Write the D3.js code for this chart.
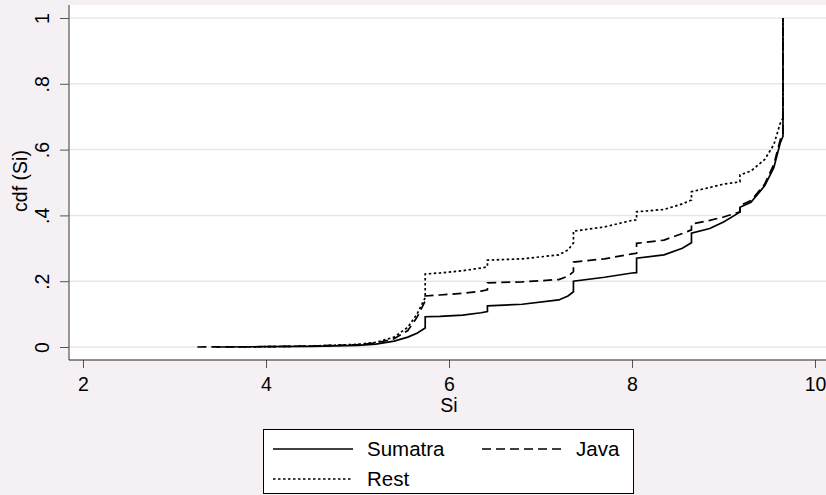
<!DOCTYPE html>
<html>
<head>
<meta charset="utf-8">
<script src="https://cdn.jsdelivr.net/npm/d3@7"></script>
<style>
  body { margin: 0; background: #f4f0f4; }
  svg { display: block; font-family: "Liberation Sans", Arial, sans-serif; }
</style>
</head>
<body>
<svg id="chart" width="826" height="495"></svg>
<script>
'use strict'

// cdf of Si (repeated x = vertical jump)
var sumatraX = [3.45, 4.0, 4.5, 5.0, 5.2, 5.4, 5.55, 5.65, 5.74, 5.74, 5.9, 6.15, 6.35, 6.42, 6.42, 6.8, 7.2, 7.3, 7.36, 7.36, 7.7, 8.0, 8.05, 8.05, 8.35, 8.55, 8.65, 8.65, 8.85, 9.0, 9.18, 9.18, 9.3, 9.45, 9.55, 9.62, 9.65, 9.65];
var sumatraY = [0, 0.001, 0.002, 0.005, 0.009, 0.018, 0.03, 0.042, 0.058, 0.092, 0.093, 0.097, 0.104, 0.108, 0.125, 0.13, 0.143, 0.155, 0.168, 0.2, 0.212, 0.225, 0.226, 0.27, 0.28, 0.3, 0.317, 0.346, 0.36, 0.38, 0.41, 0.425, 0.44, 0.49, 0.545, 0.62, 0.64, 1];

var javaX = [3.25, 4.0, 4.5, 5.0, 5.2, 5.4, 5.55, 5.65, 5.74, 5.74, 5.9, 6.15, 6.35, 6.42, 6.42, 6.8, 7.2, 7.3, 7.36, 7.36, 7.7, 8.0, 8.05, 8.05, 8.35, 8.55, 8.65, 8.65, 8.85, 9.0, 9.18, 9.18, 9.3, 9.45, 9.55, 9.62, 9.65, 9.65];
var javaY = [0, 0.001, 0.003, 0.007, 0.012, 0.025, 0.05, 0.09, 0.14, 0.155, 0.158, 0.163, 0.17, 0.174, 0.195, 0.198, 0.205, 0.215, 0.229, 0.258, 0.268, 0.283, 0.285, 0.315, 0.325, 0.345, 0.356, 0.374, 0.385, 0.395, 0.411, 0.43, 0.445, 0.495, 0.555, 0.63, 0.65, 1];

var restX = [3.7, 4.0, 4.5, 5.0, 5.2, 5.4, 5.55, 5.65, 5.74, 5.74, 5.9, 6.15, 6.35, 6.42, 6.42, 6.8, 7.2, 7.3, 7.36, 7.36, 7.7, 8.0, 8.05, 8.05, 8.35, 8.55, 8.65, 8.65, 8.85, 9.0, 9.18, 9.18, 9.3, 9.45, 9.55, 9.62, 9.65, 9.65];
var restY = [0, 0.001, 0.003, 0.008, 0.014, 0.03, 0.06, 0.1, 0.15, 0.222, 0.225, 0.232, 0.24, 0.244, 0.264, 0.268, 0.28, 0.295, 0.316, 0.352, 0.365, 0.385, 0.386, 0.411, 0.418, 0.435, 0.447, 0.472, 0.485, 0.495, 0.502, 0.523, 0.535, 0.57, 0.615, 0.68, 0.696, 1];

var seriesNames = ['Sumatra', 'Java', 'Rest'];
var xTicks = [2, 4, 6, 8, 10];
var yTicks = [0, 0.2, 0.4, 0.6, 0.8, 1];
var yTickLabels = ['0', '.2', '.4', '.6', '.8', '1'];

var series = [
  { name: seriesNames[0], xs: sumatraX, ys: sumatraY, dash: null },
  { name: seriesNames[1], xs: javaX, ys: javaY, dash: '9,5' },
  { name: seriesNames[2], xs: restX, ys: restY, dash: '2.5,2.5' }
];

var fontSize = '19.5px';
var svg = d3.select('#chart');

var plotLeft = 69, plotRight = 826, plotTop = 5, plotBottom = 360;

var x = d3.scaleLinear().domain([2, 10]).range([83, 815]);
var y = d3.scaleLinear().domain([0, 1]).range([347, 18]);

// plot region
svg.append('rect')
  .attr('x', plotLeft)
  .attr('y', plotTop)
  .attr('width', plotRight - plotLeft)
  .attr('height', plotBottom - plotTop)
  .attr('fill', '#ffffff');

// gridlines
svg.append('g')
  .selectAll('line')
  .data(yTicks)
  .enter()
  .append('line')
  .attr('x1', plotLeft)
  .attr('x2', plotRight)
  .attr('y1', function(d){ return y(d); })
  .attr('y2', function(d){ return y(d); })
  .attr('stroke', '#e9e6e9')
  .attr('stroke-width', 1.5);

// y axis
var yAxis = svg.append('g')
  .attr('transform', 'translate(' + plotLeft + ',0)')
  .call(d3.axisLeft(y).tickValues(yTicks).tickSize(9).tickSizeOuter(0)
    .tickFormat(function(d, i){ return yTickLabels[i]; }));
yAxis.select('.domain').remove();
yAxis.selectAll('.tick line').attr('stroke', '#555');
yAxis.selectAll('.tick text')
  .attr('x', 0)
  .attr('dy', 0)
  .attr('transform', 'translate(-20,0) rotate(-90)')
  .attr('text-anchor', 'middle')
  .attr('fill', '#000')
  .style('font-size', fontSize)
  .style('font-family', '"Liberation Sans", Arial, sans-serif');
svg.append('line')
  .attr('x1', plotLeft).attr('x2', plotLeft)
  .attr('y1', plotTop).attr('y2', plotBottom)
  .attr('stroke', '#555').attr('stroke-width', 1.2);

// x axis
var xAxis = svg.append('g')
  .attr('transform', 'translate(0,' + plotBottom + ')')
  .call(d3.axisBottom(x).tickValues(xTicks).tickSize(8).tickSizeOuter(0)
    .tickFormat(d3.format('d')));
xAxis.select('.domain').remove();
xAxis.selectAll('.tick line').attr('stroke', '#555');
xAxis.selectAll('.tick text')
  .attr('y', 31)
  .attr('dy', 0)
  .attr('fill', '#000')
  .style('font-size', fontSize)
  .style('font-family', '"Liberation Sans", Arial, sans-serif');
svg.append('line')
  .attr('x1', plotLeft).attr('x2', plotRight)
  .attr('y1', plotBottom).attr('y2', plotBottom)
  .attr('stroke', '#222').attr('stroke-width', 1.2);

// axis titles
svg.append('text')
  .attr('x', 449)
  .attr('y', 412)
  .attr('text-anchor', 'middle')
  .style('font-size', fontSize)
  .text('Si');
svg.append('text')
  .attr('transform', 'translate(27,181) rotate(-90)')
  .attr('text-anchor', 'middle')
  .style('font-size', fontSize)
  .text('cdf (Si)');

// curves
var line = d3.line()
  .x(function(d){ return x(d[0]); })
  .y(function(d){ return y(d[1]); });

series.forEach(function(s){
  var pts = s.xs.map(function(v, i){ return [v, s.ys[i]]; });
  svg.append('path')
    .datum(pts)
    .attr('d', line)
    .attr('fill', 'none')
    .attr('stroke', '#000')
    .attr('stroke-width', 1.7)
    .attr('stroke-dasharray', s.dash);
});

// legend
var legend = svg.append('g');
legend.append('rect')
  .attr('x', 263.5).attr('y', 429.5)
  .attr('width', 370).attr('height', 64)
  .attr('fill', '#ffffff')
  .attr('stroke', '#000')
  .attr('stroke-width', 1);

var legendPos = [[273, 449], [482, 449], [273, 479]];
series.forEach(function(s, i){
  var p = legendPos[i];
  legend.append('line')
    .attr('x1', p[0]).attr('x2', p[0] + 80)
    .attr('y1', p[1]).attr('y2', p[1])
    .attr('stroke', '#000')
    .attr('stroke-width', 1.7)
    .attr('stroke-dasharray', s.dash);
  legend.append('text')
    .attr('x', p[0] + 94)
    .attr('y', p[1] + 7)
    .style('font-size', '20.5px')
    .text(s.name);
});
</script>
</body>
</html>
